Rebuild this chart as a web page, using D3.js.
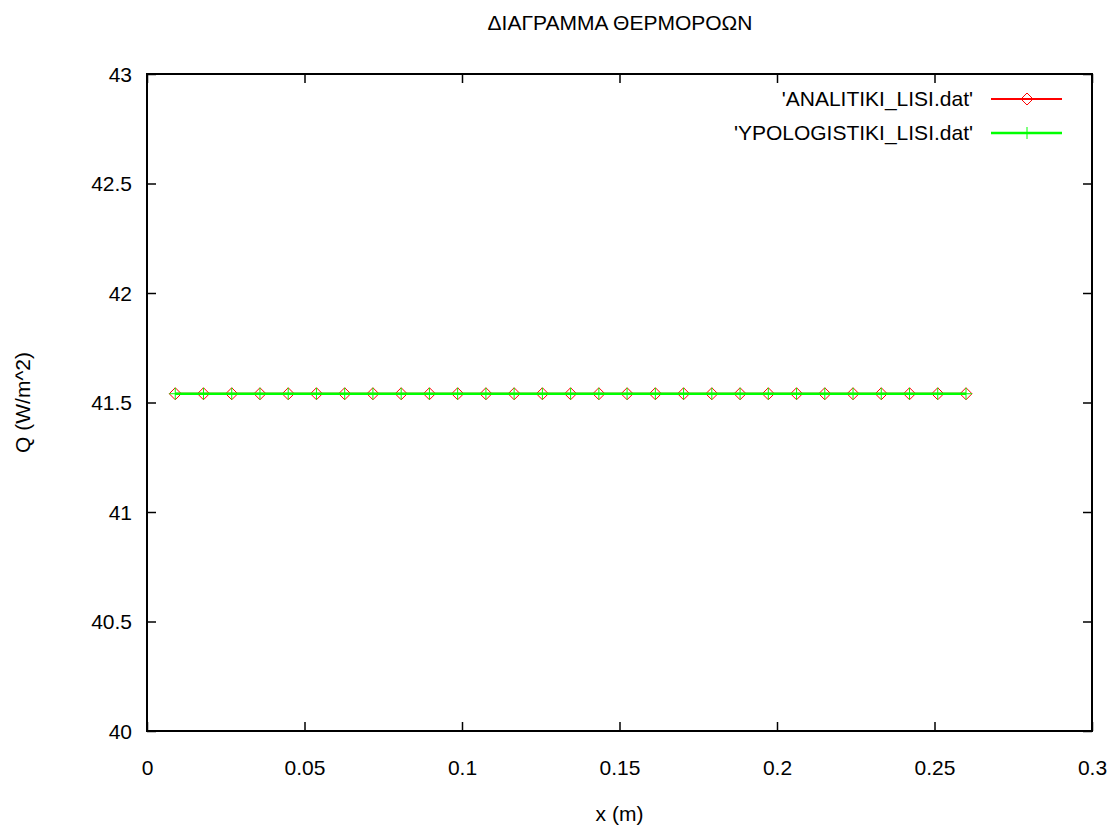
<!DOCTYPE html>
<html>
<head>
<meta charset="utf-8">
<script src="https://cdn.jsdelivr.net/npm/d3@7"></script>
<style>
  body { margin: 0; background: #fff; }
  text { font-family: "Liberation Sans", Arial, sans-serif; font-size: 21px; fill: #000; }
</style>
</head>
<body>
<div id="chart"></div>
<script>
// data
const xValues = [0.00897, 0.01793, 0.02690, 0.03586, 0.04483, 0.05379, 0.06276, 0.07172,
  0.08069, 0.08966, 0.09862, 0.10759, 0.11655, 0.12552, 0.13448, 0.14345, 0.15241,
  0.16138, 0.17034, 0.17931, 0.18828, 0.19724, 0.20621, 0.21517, 0.22414, 0.23310,
  0.24207, 0.25103, 0.26000]
const analitiki = [41.54, 41.54, 41.54, 41.54, 41.54, 41.54, 41.54, 41.54, 41.54, 41.54,
  41.54, 41.54, 41.54, 41.54, 41.54, 41.54, 41.54, 41.54, 41.54, 41.54, 41.54, 41.54,
  41.54, 41.54, 41.54, 41.54, 41.54, 41.54, 41.54]
const ypologistiki = [41.54, 41.54, 41.54, 41.54, 41.54, 41.54, 41.54, 41.54, 41.54, 41.54,
  41.54, 41.54, 41.54, 41.54, 41.54, 41.54, 41.54, 41.54, 41.54, 41.54, 41.54, 41.54,
  41.54, 41.54, 41.54, 41.54, 41.54, 41.54, 41.54]
const xTicks = [0, 0.05, 0.1, 0.15, 0.2, 0.25, 0.3]
const yTicks = [40, 40.5, 41, 41.5, 42, 42.5, 43]
const seriesNames = ["'ANALITIKI_LISI.dat'", "'YPOLOGISTIKI_LISI.dat'"]

const width = 1113
const height = 829
const margin = { left: 147, right: 21, top: 74, bottom: 98 }

const svg = d3.select("#chart")
  .append("svg")
    .attr("width", width)
    .attr("height", height)

const x = d3.scaleLinear()
  .domain([0, 0.3])
  .range([margin.left, width - margin.right])
const y = d3.scaleLinear()
  .domain([40, 43])
  .range([height - margin.bottom, margin.top])

const tickLen = 9

// ticks, gnuplot style: inward, mirrored
const xAxisB = svg.append("g")
  .attr("transform", `translate(0,${y(40)})`)
  .call(d3.axisBottom(x).tickValues(xTicks).tickSize(-tickLen).tickPadding(0).tickFormat(d3.format("")))
xAxisB.select(".domain").remove()
xAxisB.selectAll("text").attr("y", 44).attr("dy", null)
svg.append("g")
  .attr("transform", `translate(0,${y(43)})`)
  .call(d3.axisTop(x).tickValues(xTicks).tickSize(-tickLen).tickFormat(""))
  .select(".domain").remove()

const yAxisL = svg.append("g")
  .attr("transform", `translate(${x(0)},0)`)
  .call(d3.axisLeft(y).tickValues(yTicks).tickSize(-tickLen).tickFormat(d3.format("")))
yAxisL.select(".domain").remove()
yAxisL.selectAll("text").attr("x", -15).attr("dy", "0.35em")
svg.append("g")
  .attr("transform", `translate(${x(0.3)},0)`)
  .call(d3.axisRight(y).tickValues(yTicks).tickSize(-tickLen).tickFormat(""))
  .select(".domain").remove()

svg.selectAll(".tick line").attr("stroke", "#000").attr("stroke-width", 1.5)
svg.selectAll(".tick text").style("font-size", "21px").style("font-family", "Liberation Sans, Arial, sans-serif")

// border
svg.append("rect")
  .attr("x", x(0))
  .attr("y", y(43))
  .attr("width", x(0.3) - x(0))
  .attr("height", y(40) - y(43))
  .attr("fill", "none")
  .attr("stroke", "#000")
  .attr("stroke-width", 2)

// titles
svg.append("text")
  .attr("x", 620).attr("y", 30)
  .attr("text-anchor", "middle")
  .text("ΔΙΑΓΡΑΜΜΑ ΘΕΡΜΟΡΟΩΝ")
svg.append("text")
  .attr("x", (x(0) + x(0.3)) / 2).attr("y", 821)
  .attr("text-anchor", "middle")
  .text("x (m)")
svg.append("text")
  .attr("transform", `translate(30,${(y(40) + y(43)) / 2}) rotate(-90)`)
  .attr("text-anchor", "middle")
  .text("Q (W/m^2)")

const line = d3.line().x(d => x(d[0])).y(d => y(d[1]))
const dataA = xValues.map((v, i) => [v, analitiki[i]])
const dataB = xValues.map((v, i) => [v, ypologistiki[i]])

const diamond = (cx, cy, r) => `M${cx},${cy - r}L${cx + r},${cy}L${cx},${cy + r}L${cx - r},${cy}Z`
const cross = (cx, cy, r) => `M${cx - r},${cy}H${cx + r}M${cx},${cy - r}V${cy + r}`

// series 1: red line + diamonds
svg.append("path")
  .datum(dataA)
  .attr("d", line)
  .attr("fill", "none")
  .attr("stroke", "#ff0000")
  .attr("stroke-width", 2)
svg.append("g").selectAll("path")
  .data(dataA)
  .join("path")
    .attr("d", d => diamond(x(d[0]), y(d[1]), 6))
    .attr("fill", "none")
    .attr("stroke", "#ff0000")
    .attr("stroke-width", 1)

// series 2: green line + crosses
svg.append("path")
  .datum(dataB)
  .attr("d", line)
  .attr("fill", "none")
  .attr("stroke", "#00ff00")
  .attr("stroke-width", 2.5)
svg.append("g").selectAll("path")
  .data(dataB)
  .join("path")
    .attr("d", d => cross(x(d[0]), y(d[1]), 6))
    .attr("fill", "none")
    .attr("stroke", "#00ff00")
    .attr("stroke-width", 1)

// legend
const legend = svg.append("g")
const legendRows = [
  { name: seriesNames[0], color: "#ff0000", marker: diamond, w: 2 },
  { name: seriesNames[1], color: "#00ff00", marker: cross, w: 2.5 }
]
legendRows.forEach((d, i) => {
  const ly = 99 + i * 34
  legend.append("text")
    .attr("x", 973).attr("y", ly)
    .attr("dy", "0.35em")
    .attr("text-anchor", "end")
    .text(d.name)
  legend.append("line")
    .attr("x1", 991).attr("x2", 1062)
    .attr("y1", ly).attr("y2", ly)
    .attr("stroke", d.color)
    .attr("stroke-width", d.w)
  legend.append("path")
    .attr("d", d.marker(1027, ly, 6))
    .attr("fill", "none")
    .attr("stroke", d.color)
    .attr("stroke-width", 1)
})
</script>
</body>
</html>
